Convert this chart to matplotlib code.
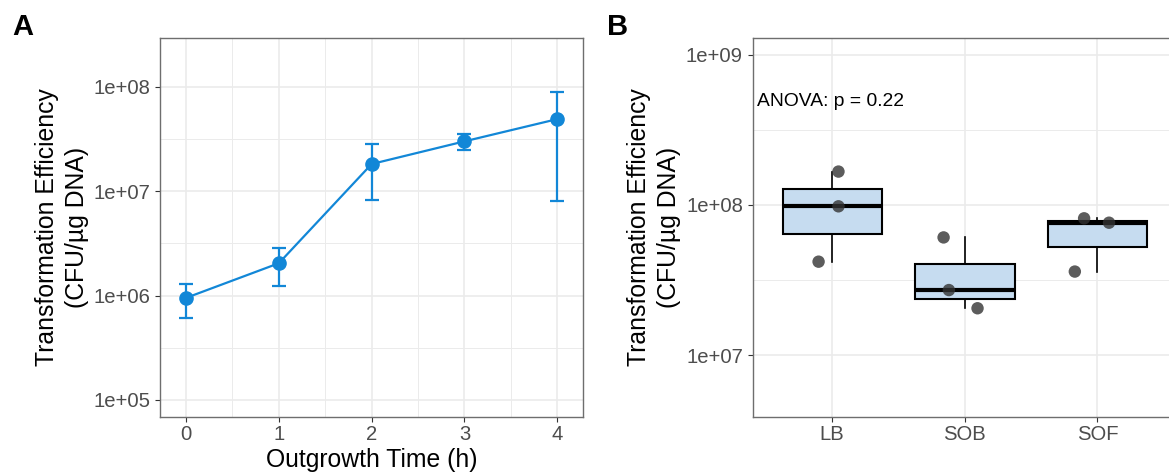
import numpy as np
import matplotlib
matplotlib.use("Agg")
import matplotlib.pyplot as plt
from matplotlib import cbook
from matplotlib.ticker import FixedLocator, FuncFormatter, NullFormatter

plt.rcParams['font.family'] = ['Liberation Sans', 'DejaVu Sans']

# Panel A: outgrowth time course (mean +/- sd)
time_h = [0, 1, 2, 3, 4]
mean_eff = [9.5e5, 2.04e6, 1.82e7, 3.0e7, 4.9e7]
sd_eff = [3.4e5, 8.1e5, 9.9e6, 5.0e6, 4.1e7]

# Panel B: recovery media, three replicates each
media = ['LB', 'SOB', 'SOF']
lb_vals = [1.67e8, 9.8e7, 4.19e7]
sob_vals = [6.08e7, 2.71e7, 2.05e7]
sof_vals = [8.15e7, 7.62e7, 3.6e7]
# horizontal jitter of the points as seen in the picture
lb_jitter = [0.047, 0.047, -0.103]
sob_jitter = [-0.16, -0.12, 0.096]
sof_jitter = [-0.10, 0.088, -0.17]
anova_label = 'ANOVA: p = 0.22'

ylab = 'Transformation Efficiency\n(CFU/\u00b5g DNA)'
blue = '#1287D7'
grid_c = '#EBEBEB'
tick_c = '#4D4D4D'

W, H = 1169, 475
fig = plt.figure(figsize=(W / 100, H / 100), dpi=100)


def style_axes(ax):
    for s in ax.spines.values():
        s.set_color('#6E6E6E')
        s.set_linewidth(1.0)
    ax.set_axisbelow(True)
    ax.grid(True, which='major', color=grid_c, linewidth=1.2)
    ax.grid(True, which='minor', color=grid_c, linewidth=0.7)
    ax.tick_params(which='major', direction='out', length=3.6, width=0.8,
                   color='#333333', labelcolor=tick_c, labelsize=14.6)
    ax.tick_params(which='minor', length=0)
    ax.yaxis.set_major_formatter(FuncFormatter(lambda v, p: f'{v:.0e}'))
    ax.yaxis.set_minor_formatter(NullFormatter())
    ax.tick_params(axis='y', pad=3.4)
    ax.tick_params(axis='x', pad=2.2)


bottom = (H - 416.7) / H
height = 378.4 / H

# ---- Panel A ----
axA = fig.add_axes([160 / W, bottom, 423.3 / W, height])
axA.set_yscale('log')
axA.errorbar(time_h, mean_eff, yerr=sd_eff, color=blue, linewidth=1.6,
             elinewidth=1.6, capsize=5.0, capthick=1.6, fmt='none', zorder=2)
axA.plot(time_h, mean_eff, color=blue, linewidth=1.6, marker='o',
         markersize=9.5, zorder=3)
axA.set_xlim(-0.28, 4.28)
axA.set_ylim(10 ** 4.84, 10 ** 8.464)
axA.yaxis.set_major_locator(FixedLocator([1e5, 1e6, 1e7, 1e8]))
axA.yaxis.set_minor_locator(FixedLocator([10 ** 5.5, 10 ** 6.5, 10 ** 7.5]))
axA.xaxis.set_major_locator(FixedLocator(time_h))
axA.xaxis.set_minor_locator(FixedLocator([0.5, 1.5, 2.5, 3.5]))
style_axes(axA)
axA.set_xlabel('Outgrowth Time (h)', fontsize=17.8, labelpad=3.0)
axA.text(-98 / 423.3, 0.5, ylab, transform=axA.transAxes, rotation=90,
         ha='center', va='center', fontsize=17.8, linespacing=1.3)

# ---- Panel B ----
axB = fig.add_axes([752.7 / W, bottom, 424.2 / W, height])
axB.set_yscale('log')
groups = [lb_vals, sob_vals, sof_vals]
jitters = [lb_jitter, sob_jitter, sof_jitter]
pos = np.arange(1, len(media) + 1)

# box statistics computed on the log scale (as ggplot does with log10 scale)
stats = cbook.boxplot_stats([np.log10(g) for g in groups])
for st in stats:
    for k in ('med', 'q1', 'q3', 'whislo', 'whishi'):
        st[k] = 10 ** st[k]
    st['fliers'] = []
axB.bxp(stats, positions=pos, widths=0.75, patch_artist=True,
        showfliers=False, showcaps=False,
        boxprops=dict(facecolor='#C6DCF0', edgecolor='black', linewidth=1.5),
        medianprops=dict(color='black', linewidth=3.0),
        whiskerprops=dict(color='black', linewidth=1.2), zorder=2)
for p, g, j in zip(pos, groups, jitters):
    axB.scatter(p + np.array(j), g, s=80, color='#333333', alpha=0.8,
                edgecolors='none', zorder=3)
axB.set_xlim(0.4, 3.6)
axB.set_ylim(10 ** 6.589, 10 ** 9.111)
axB.yaxis.set_major_locator(FixedLocator([1e7, 1e8, 1e9]))
axB.yaxis.set_minor_locator(FixedLocator([10 ** 7.5, 10 ** 8.5]))
axB.set_xticks(pos)
axB.set_xticklabels(media)
style_axes(axB)
axB.text(0.0094, 0.834, anova_label, transform=axB.transAxes, ha='left',
         va='center', fontsize=13.9, color='black')
axB.text(-98.7 / 424.2, 0.5, ylab, transform=axB.transAxes, rotation=90,
         ha='center', va='center', fontsize=17.8, linespacing=1.3)

# panel letters
fig.text(12 / W, 1 - 35 / H, 'A', fontsize=21, fontweight='bold', va='baseline')
fig.text(607 / W, 1 - 35 / H, 'B', fontsize=21, fontweight='bold', va='baseline')

fig.savefig('out.png', dpi=100)
